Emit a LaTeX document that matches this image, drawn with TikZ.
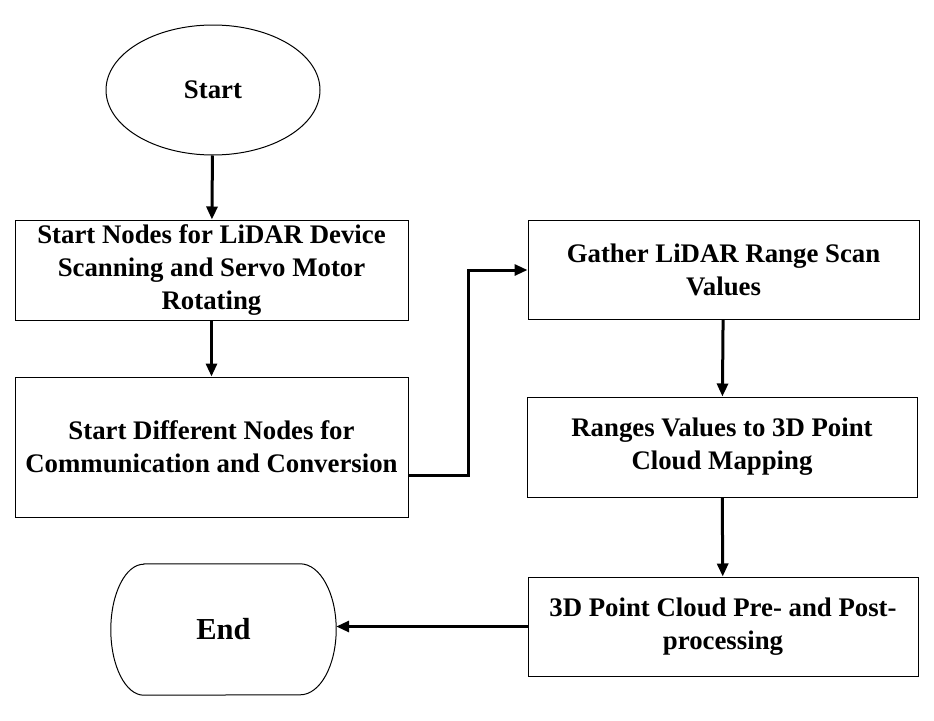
\documentclass[tikz,border=0pt]{standalone}
\usepackage{fontspec}
\setmainfont{Liberation Serif}
\usepackage{tikz}
\usetikzlibrary{arrows.meta,calc,shapes.geometric}

\begin{document}
\begin{tikzpicture}[x=1pt,y=-1pt,line join=miter,
  font=\bfseries\fontsize{26.8}{33}\selectfont,
  proc/.style={draw,line width=1pt,rectangle,align=center,inner sep=0pt},
  term/.style={draw,line width=1pt,ellipse,inner sep=0pt},
  flow/.style={line width=3pt,-{Triangle[length=13pt,width=11pt]}}]
\path[use as bounding box] (0,0) rectangle (934,720);
\fill[white] (0,0) rectangle (934,720);

% left column
\node[term,minimum width=214,minimum height=130] (start) at (213,90) {Start};
\node[proc,minimum width=393,minimum height=100] (nodes) at (211.5,270)
  {Start Nodes for LiDAR Device\\Scanning and Servo Motor\\Rotating};
\node[proc,minimum width=393,minimum height=140] (conv) at (211.5,447)
  {Start Different Nodes for\\Communication and Conversion};
% end: flat top and bottom, elliptic sides
\node[minimum width=225,minimum height=131,inner sep=0pt,
  font=\bfseries\fontsize{30.5}{36}\selectfont] (end) at (223.5,629.5) {End};
\draw[line width=1pt] ($(end.north west)+(33,0)$) -- ($(end.north east)+(-36,0)$)
  arc[start angle=90,end angle=-90,x radius=36pt,y radius=65.5pt]
  -- ($(end.south west)+(33,0)$)
  arc[start angle=270,end angle=90,x radius=33pt,y radius=65.5pt] -- cycle;

% right column
\node[proc,minimum width=391,minimum height=99] (gather) at (723.5,270)
  {Gather LiDAR Range Scan\\Values};
\node[proc,minimum width=390,minimum height=100] (map) at (722,447)
  {Ranges Values to 3D Point\\Cloud Mapping};
\node[proc,minimum width=390,minimum height=99] (post) at (723,626.5)
  {3D Point Cloud Pre- and Post-\\processing};

% connectors
\draw[flow] (start) -- (nodes);
\draw[flow] (nodes) -- (conv);
\draw[flow] ([yshift=-28pt]conv.east) -- ++(60,0) |- (gather.west);
\draw[flow] (gather) -- (map);
\draw[flow] (map) -- (post);
\draw[flow] (post.west) -- (post.west -| end.east);
\end{tikzpicture}
\end{document}
